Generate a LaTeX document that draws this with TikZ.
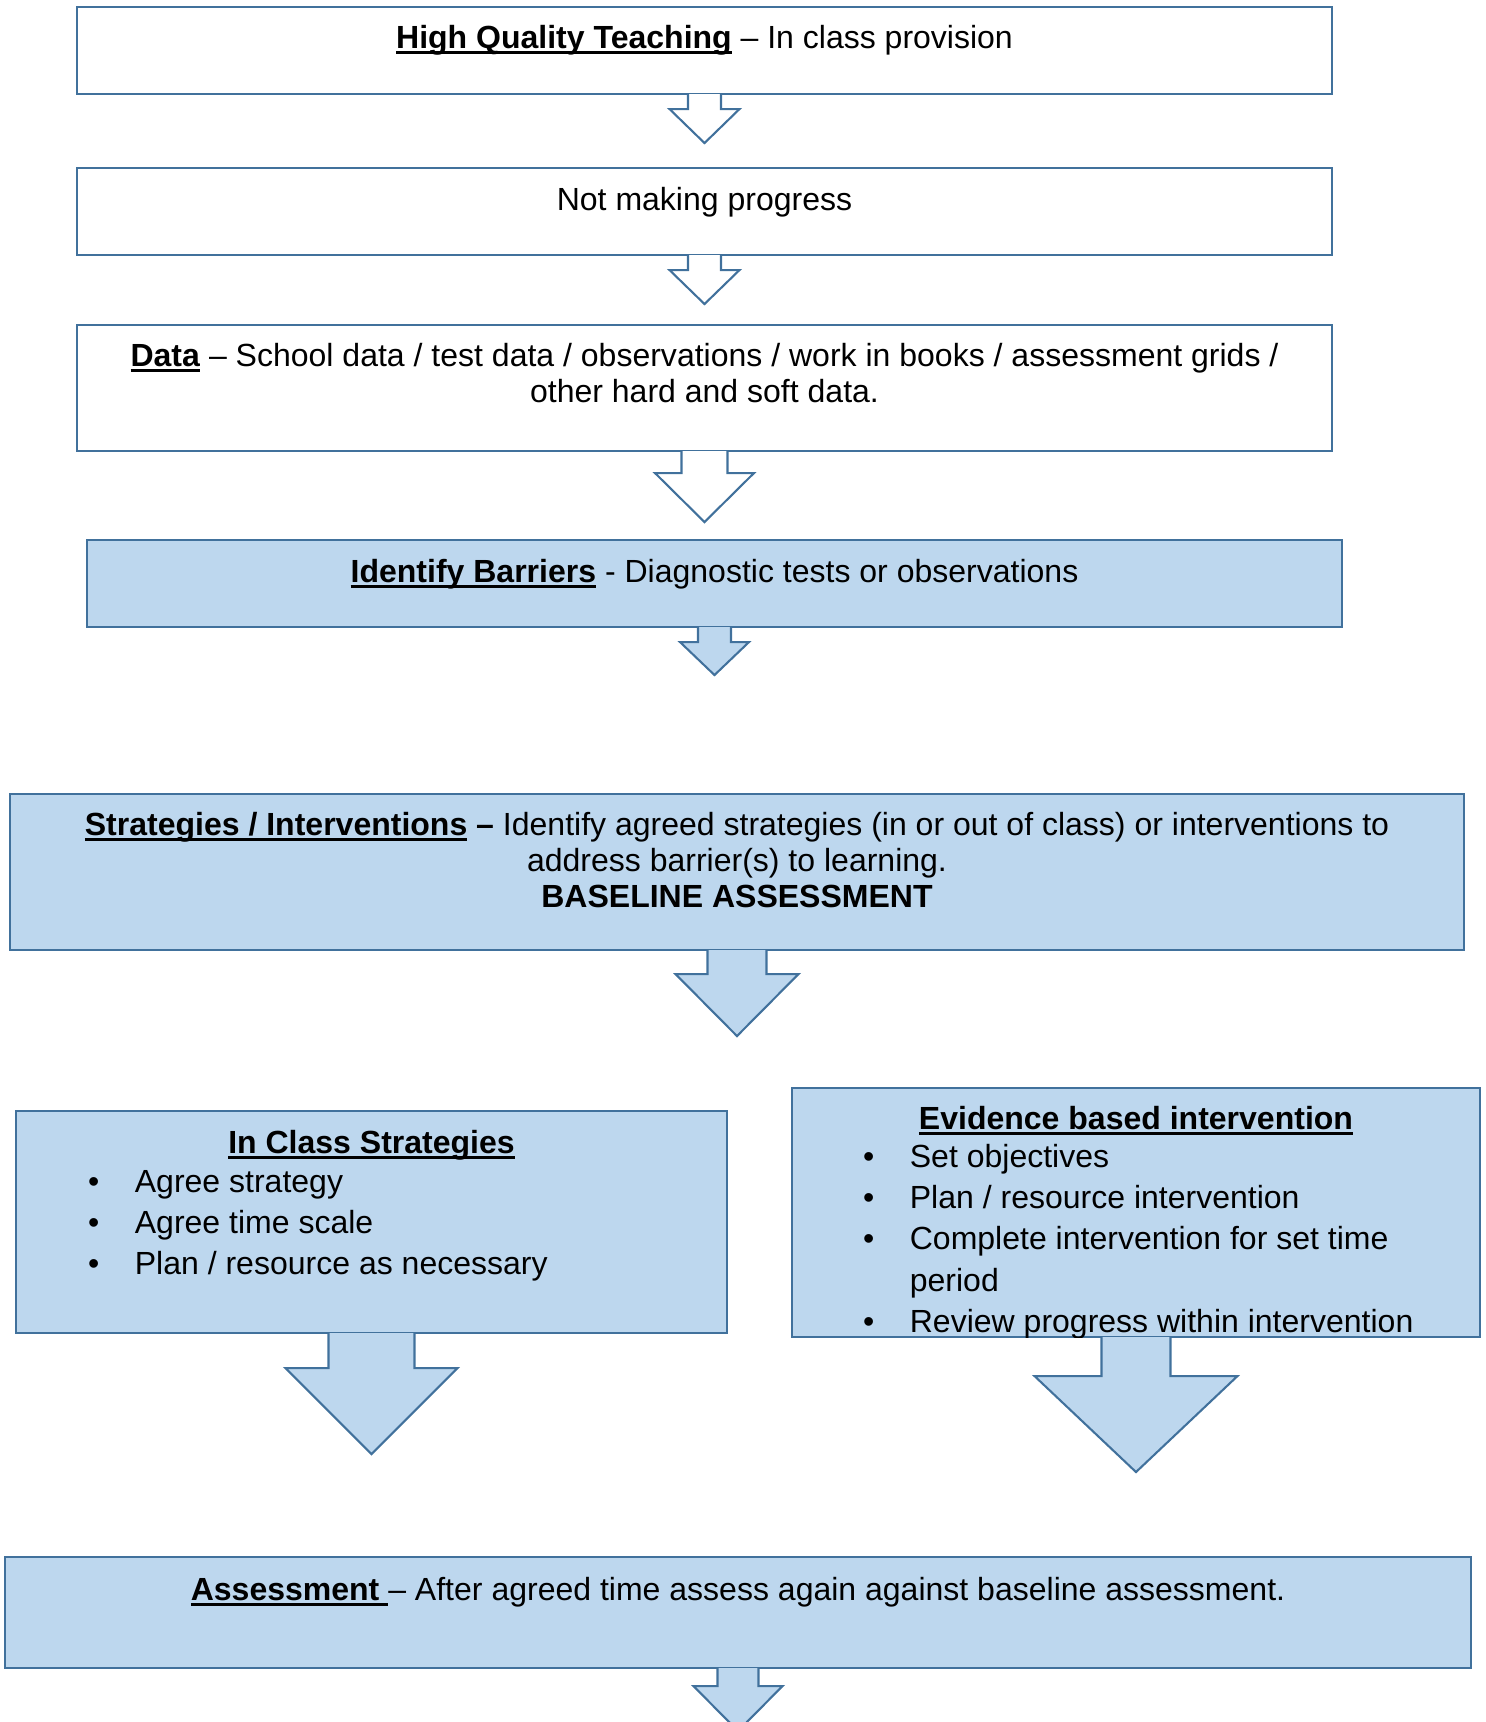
\documentclass[tikz,border=0pt]{standalone}
\usepackage{fontspec}
\setmainfont{Liberation Sans}
\usetikzlibrary{fit}
\definecolor{boxline}{RGB}{65,113,156}
\definecolor{boxfill}{RGB}{189,215,238}
% underlined bold heading word
\newlength{\ulwidth}
\newcommand{\ulbold}[1]{\settowidth{\ulwidth}{\textbf{#1}}\makebox[0pt][l]{\rule[-2.4pt]{\ulwidth}{1.1pt}}\textbf{#1}}
% block arrow below a box: fill, node, shaft half width, shaft length, head half width, head length
\newcommand{\flowarrow}[6]{%
  \filldraw[arrowline, fill=#1] (#2.south) ++(-#3,-1) -- ++(0,#4+1) -- ++(#3-#5,0)
    -- ++(#5,#6) -- ++(#5,-#6) -- ++(#3-#5,0) -- ++(0,-#4-1);}
\tikzset{
    stepbox/.style={
        draw=boxline, line width=0.8pt, fill=white, inner sep=0pt
    },
    bluebox/.style={
        stepbox, fill=boxfill
    },
    boxtext/.style={
        anchor=base, inner sep=0pt, font=\fontsize{12.3}{14}\selectfont
    },
    listtext/.style={
        anchor=base west, inner sep=0pt, font=\fontsize{12.3}{15.9}\selectfont
    },
    arrowline/.style={
        draw=boxline, line width=0.8pt, line join=miter
    }
}
\begin{document}
\begin{tikzpicture}[x=0.0135cm, y=-0.0135cm]
    \useasboundingbox (0,0) rectangle (1486,1722);

    % ==========================================
    % WHITE BOXES
    % ==========================================
    \node[stepbox, fit={(77,7) (1332,94)}] (hqt) {};
    \node[boxtext] (hqt-t) at (704.5,48) {\ulbold{High Quality Teaching} -- In class provision};
    \flowarrow{white}{hqt}{16.5}{14}{35}{34}

    \node[stepbox, fit={(77,168) (1332,255)}] (nmp) {};
    \node[boxtext] (nmp-t) at (704.5,210) {Not making progress};
    \flowarrow{white}{nmp}{16.5}{14}{35}{34}

    \node[stepbox, fit={(77,325) (1332,451)}] (data) {};
    \node[boxtext] (data-t) at (704.5,366) {\begin{tabular}[t]{@{}c@{}}
        \ulbold{Data} -- School data / test data / observations / work in books / assessment grids /\\
        other hard and soft data.\end{tabular}};
    \flowarrow{white}{data}{23}{21}{49.5}{49}

    % ==========================================
    % BLUE BOXES
    % ==========================================
    \node[bluebox, fit={(87,540) (1342,627)}] (bar) {};
    \node[boxtext] (bar-t) at (714.5,582) {\ulbold{Identify Barriers} - Diagnostic tests or observations};
    \flowarrow{boxfill}{bar}{16.5}{14}{34.5}{33}

    \node[bluebox, fit={(10,794) (1464,950)}] (strat) {};
    \node[boxtext] (strat-t) at (737,835) {\begin{tabular}[t]{@{}c@{}}
        \ulbold{Strategies / Interventions}\textbf{ --} Identify agreed strategies (in or out of class) or interventions to\\
        address barrier(s) to learning.\\
        \textbf{BASELINE ASSESSMENT}\end{tabular}};
    \flowarrow{boxfill}{strat}{29.5}{23}{61.5}{62}

    % In class strategies (left)
    \node[bluebox, fit={(16,1111) (727,1333)}] (icls) {};
    \node[boxtext] (icls-t) at (371.5,1153) {\ulbold{In Class Strategies}};
    \node[listtext] (icls-l) at (87.5,1192) {\begin{tabular}[t]{@{}p{18pt}@{}l@{}}
        \textbullet & Agree strategy\\
        \textbullet & Agree time scale\\
        \textbullet & Plan / resource as necessary\end{tabular}};
    \flowarrow{boxfill}{icls}{43}{34}{86}{86}

    % Evidence based intervention (right), text cut at the box edge
    \node[bluebox, fit={(792,1088) (1480,1337)}] (evid) {};
    \begin{scope}
        \clip ([shift={(0,-1)}]evid.south west) rectangle (evid.north east);
        \node[boxtext] (evid-t) at (1136,1129) {\ulbold{Evidence based intervention}};
        \node[listtext] (evid-l) at (862.5,1167) {\begin{tabular}[t]{@{}p{18pt}@{}l@{}}
            \textbullet & Set objectives\\
            \textbullet & Plan / resource intervention\\
            \textbullet & Complete intervention for set time\\
                        & period\\
            \textbullet & Review progress within intervention\end{tabular}};
    \end{scope}
    \flowarrow{boxfill}{evid}{34.5}{38}{101.5}{96}

    % Assessment
    \node[bluebox, fit={(5,1557) (1471,1668)}] (assess) {};
    \node[boxtext] (assess-t) at (738,1600) {\ulbold{Assessment\ }-- After agreed time assess again against baseline assessment.};
    \flowarrow{boxfill}{assess}{20.5}{17}{44.5}{45}

\end{tikzpicture}
\end{document}
